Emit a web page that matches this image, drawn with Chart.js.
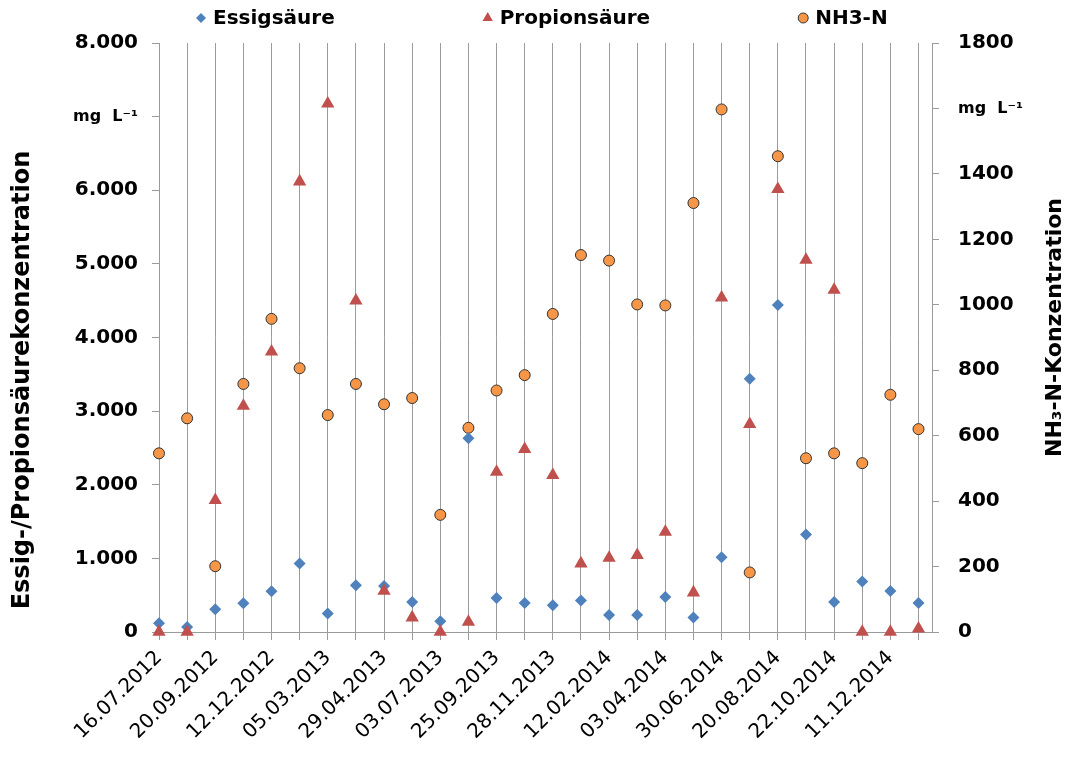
<!DOCTYPE html>
<html lang="de">
<head>
<meta charset="utf-8">
<title>Essigsäure, Propionsäure und NH3-N</title>
<script src="https://cdn.jsdelivr.net/npm/chart.js@4.4.1/dist/chart.umd.min.js"></script>
<style>
  html, body { margin: 0; padding: 0; background: #fff; }
  #wrap { width: 1068px; height: 760px; position: relative; }
</style>
</head>
<body>
<div id="wrap"><canvas id="vfaChart"></canvas></div>
<script>
// Probenahmetermine (nur jeder zweite wird beschriftet)
const sampleDates = [
  '16.07.2012', '15.08.2012', '20.09.2012', '24.10.2012', '12.12.2012', '30.01.2013',
  '05.03.2013', '03.04.2013', '29.04.2013', '29.05.2013', '03.07.2013', '21.08.2013',
  '25.09.2013', '23.10.2013', '28.11.2013', '08.01.2014', '12.02.2014', '12.03.2014',
  '03.04.2014', '14.05.2014', '30.06.2014', '24.07.2014', '20.08.2014', '17.09.2014',
  '22.10.2014', '19.11.2014', '11.12.2014', '14.01.2015'
];

// mg/L, linke Achse
const essigsaeure = [
  120, 68, 309, 390, 553, 930, 250, 635, 625, 408, 145, 2630, 462, 394,
  363, 427, 231, 231, 476, 196, 1016, 3440, 4442, 1324, 408, 685, 557, 394
];
const propionsaeure = [
  0, 0, 1790, 3070, 3807, 6118, 7175, 4500, 557, 196, 0, 136, 2175, 2484,
  2130, 930, 1006, 1043, 1360, 536, 4541, 2824, 6015, 5054, 4646, 0, 0, 46
];

// mg/L, rechte Achse
const nh3n = [
  546, 653, 201, 758, 957, 806, 663, 758, 696, 715, 358, 624, 738, 785,
  972, 1152, 1135, 1001, 998, 1311, 1597, 182, 1454, 531, 546, 516, 725, 620
];

// Achsenbeschriftungen, Index = Wert / Schrittweite
const leftTickLabels = ['0', '1.000', '2.000', '3.000', '4.000', '5.000', '6.000', 'mg  L⁻¹', '8.000'];
const rightTickLabels = ['0', '200', '400', '600', '800', '1000', '1200', '1400', 'mg  L⁻¹', '1800'];

const BLUE = '#4f81bd';
const RED = '#c0504d';
const ORANGE = '#f79646';
const GRID = '#9b9b9b';
const FONT = "'DejaVu Sans', sans-serif";

Chart.defaults.font.family = FONT;
Chart.defaults.color = '#000';

function toPoints(values) {
  return values.map((v, i) => ({ x: i, y: v }));
}

function tickFont(ctx) {
  const label = ctx.tick ? ctx.tick.label : '';
  if (typeof label === 'string' && label.startsWith('mg')) {
    return { family: FONT, size: 16, weight: 'bold' };
  }
  return { family: FONT, size: 20, weight: 'bold' };
}

function drawMarker(ctx, style, x, y, r, fill, stroke, lineWidth) {
  ctx.beginPath();
  if (style === 'rectRot') {
    ctx.moveTo(x, y - r);
    ctx.lineTo(x + r, y);
    ctx.lineTo(x, y + r);
    ctx.lineTo(x - r, y);
  } else if (style === 'triangle') {
    const dx = r * Math.sin(Math.PI / 3);
    ctx.moveTo(x, y - r);
    ctx.lineTo(x + dx, y + r / 2);
    ctx.lineTo(x - dx, y + r / 2);
  } else {
    ctx.arc(x, y, r, 0, Math.PI * 2);
  }
  ctx.closePath();
  ctx.fillStyle = fill;
  ctx.fill();
  if (lineWidth) {
    ctx.lineWidth = lineWidth;
    ctx.strokeStyle = stroke;
    ctx.stroke();
  }
}

// Legende oben und beide Achsentitel (gegen den Uhrzeigersinn gedreht)
const headerAndTitles = {
  id: 'headerAndTitles',
  afterDraw(chart) {
    const { ctx, chartArea, width, height } = chart;
    const markerW = 12;
    const markerGap = 6;
    const itemGap = 147;
    const legendY = 18;

    ctx.save();
    ctx.font = 'bold 20px ' + FONT;
    ctx.textBaseline = 'middle';
    ctx.textAlign = 'left';

    let x = chartArea.left + 36;
    chart.data.datasets.forEach(ds => {
      drawMarker(ctx, ds.pointStyle, x + markerW / 2, legendY, ds.legendRadius,
        ds.pointBackgroundColor, ds.pointBorderColor, ds.pointBorderWidth);
      ctx.fillStyle = '#000';
      ctx.fillText(ds.label, x + markerW + markerGap, legendY + 1);
      x += markerW + markerGap + ctx.measureText(ds.label).width + itemGap;
    });

    ctx.textAlign = 'center';
    ctx.fillStyle = '#000';

    ctx.save();
    ctx.translate(23, height / 2);
    ctx.rotate(-Math.PI / 2);
    ctx.font = 'bold 24px ' + FONT;
    ctx.fillText('Essig-/Propionsäurekonzentration', 0, 0);
    ctx.restore();

    ctx.save();
    ctx.translate(width - 13, (chartArea.top + chartArea.bottom) / 2 - 10);
    ctx.rotate(-Math.PI / 2);
    ctx.font = 'bold 22px ' + FONT;
    ctx.fillText('NH₃-N-Konzentration', 0, 0);
    ctx.restore();

    ctx.restore();
  }
};

const chart = new Chart(document.getElementById('vfaChart'), {
  type: 'scatter',
  data: {
    datasets: [
      {
        label: 'Essigsäure',
        data: toPoints(essigsaeure),
        yAxisID: 'y',
        pointStyle: 'rectRot',
        pointRadius: 6,
        legendRadius: 5,
        pointBackgroundColor: BLUE,
        pointBorderColor: BLUE,
        pointBorderWidth: 0,
        clip: false,
        order: 2
      },
      {
        label: 'Propionsäure',
        data: toPoints(propionsaeure),
        yAxisID: 'y',
        pointStyle: 'triangle',
        pointRadius: 7.7,
        legendRadius: 6,
        pointBackgroundColor: RED,
        pointBorderColor: RED,
        pointBorderWidth: 0,
        clip: false,
        order: 1
      },
      {
        label: 'NH3-N',
        data: toPoints(nh3n),
        yAxisID: 'y1',
        pointStyle: 'circle',
        pointRadius: 5.5,
        legendRadius: 5,
        pointBackgroundColor: ORANGE,
        pointBorderColor: '#333333',
        pointBorderWidth: 1,
        clip: false,
        order: 3
      }
    ]
  },
  options: {
    responsive: true,
    maintainAspectRatio: false,
    animation: false,
    events: [],
    layout: { padding: { top: 43, left: 0, right: 0, bottom: 0 } },
    plugins: {
      legend: { display: false },
      tooltip: { enabled: false }
    },
    scales: {
      x: {
        type: 'linear',
        position: 'bottom',
        min: 0,
        max: 27.48,
        afterBuildTicks: scale => {
          scale.ticks = sampleDates.map((_, i) => ({ value: i }));
        },
        afterFit: scale => { scale.height = 128; },
        grid: { color: GRID, lineWidth: 1, tickLength: 8 },
        border: { color: GRID, width: 1 },
        ticks: {
          autoSkip: false,
          minRotation: 45,
          maxRotation: 45,
          padding: 6,
          color: '#000',
          font: { family: FONT, size: 20 },
          callback: value => (value % 2 === 0 ? sampleDates[value] : '')
        }
      },
      y: {
        position: 'left',
        min: 0,
        max: 8000,
        afterFit: scale => { scale.width = 159; },
        grid: { drawOnChartArea: false, color: GRID, tickLength: 7 },
        border: { color: GRID, width: 1 },
        ticks: {
          stepSize: 1000,
          padding: 14,
          color: '#000',
          font: tickFont,
          callback: value => leftTickLabels[value / 1000]
        }
      },
      y1: {
        position: 'right',
        min: 0,
        max: 1800,
        afterFit: scale => { scale.width = 136; },
        grid: { drawOnChartArea: false, color: GRID, tickLength: 7 },
        border: { color: GRID, width: 1 },
        ticks: {
          stepSize: 200,
          padding: 19,
          color: '#000',
          font: tickFont,
          callback: value => rightTickLabels[value / 200]
        }
      }
    }
  },
  plugins: [headerAndTitles]
});
</script>
</body>
</html>
